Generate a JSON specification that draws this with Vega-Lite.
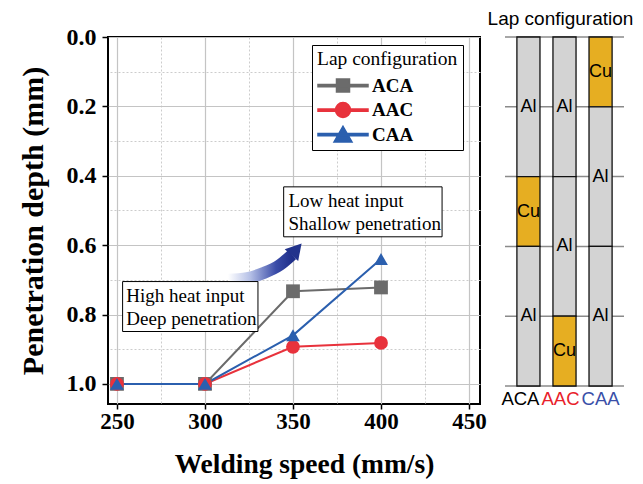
{
  "$schema": "https://vega.github.io/schema/vega-lite/v6.json",
  "background": "white",
  "padding": {"left": 17, "top": 10, "right": 5, "bottom": 5},
  "config": {"font": "Liberation Serif", "view": {"stroke": null}},
  "datasets": {
    "series": [
      {"speed": 250, "depth": 1.0, "config": "ACA"},
      {"speed": 300, "depth": 1.0, "config": "ACA"},
      {"speed": 350, "depth": 0.733, "config": "ACA"},
      {"speed": 400, "depth": 0.722, "config": "ACA"},
      {"speed": 250, "depth": 1.0, "config": "AAC"},
      {"speed": 300, "depth": 1.0, "config": "AAC"},
      {"speed": 350, "depth": 0.893, "config": "AAC"},
      {"speed": 400, "depth": 0.882, "config": "AAC"},
      {"speed": 250, "depth": 1.0, "config": "CAA"},
      {"speed": 300, "depth": 1.0, "config": "CAA"},
      {"speed": 350, "depth": 0.86, "config": "CAA"},
      {"speed": 400, "depth": 0.64, "config": "CAA"}
    ],
    "arrow": [
      {"ax": 313.1, "ay": 0.700},
      {"ax": 323.9, "ay": 0.695},
      {"ax": 333.5, "ay": 0.680},
      {"ax": 342.6, "ay": 0.657},
      {"ax": 349.4, "ay": 0.628}
    ],
    "arrowhead": [{"ax": 352.0, "ay": 0.612}],
    "boxes": [
      {"x1": 344.7, "x2": 434.7, "y1": 0.432, "y2": 0.576, "tx": 347.4, "ty": 0.4726, "label": "Low heat input\nShallow penetration"},
      {"x1": 253.2, "x2": 330.1, "y1": 0.705, "y2": 0.849, "tx": 255.3, "ty": 0.7455, "label": "High heat input\nDeep penetration"}
    ],
    "layers": [
      {"config": "ACA", "layer": 1, "material": "Al", "start": 0, "end": 2},
      {"config": "ACA", "layer": 2, "material": "Cu", "start": 2, "end": 3},
      {"config": "ACA", "layer": 3, "material": "Al", "start": 3, "end": 5},
      {"config": "AAC", "layer": 1, "material": "Al", "start": 0, "end": 2},
      {"config": "AAC", "layer": 2, "material": "Al", "start": 2, "end": 4},
      {"config": "AAC", "layer": 3, "material": "Cu", "start": 4, "end": 5},
      {"config": "CAA", "layer": 1, "material": "Cu", "start": 0, "end": 1},
      {"config": "CAA", "layer": 2, "material": "Al", "start": 1, "end": 3},
      {"config": "CAA", "layer": 3, "material": "Al", "start": 3, "end": 5}
    ],
    "lines": [{"v": 0}, {"v": 1}, {"v": 2}, {"v": 3}, {"v": 4}, {"v": 5}]
  },
  "bounds": "flush",
  "spacing": 25,
  "resolve": {"scale": {"x": "independent", "y": "independent", "color": "independent"}},
  "hconcat": [
    {
      "width": 372,
      "height": 367,
      "view": {"stroke": "black", "strokeWidth": 2},
      "layer": [
        {
          "data": {"name": "series"},
          "mark": {"type": "point", "opacity": 0},
          "encoding": {
            "x": {"field": "speed", "type": "quantitative",
              "scale": {"domain": [244.9, 456.25], "nice": false, "zero": false},
              "axis": {"orient": "top", "values": [275, 325, 375, 425], "labels": false, "domain": false, "ticks": false, "grid": true, "gridDash": [2, 2], "gridColor": "#cccccc", "gridWidth": 1, "title": null}},
            "y": {"field": "depth", "type": "quantitative",
              "scale": {"domain": [0, 1.058], "reverse": true, "nice": false, "zero": false},
              "axis": {"orient": "right", "values": [0.1, 0.3, 0.5, 0.7, 0.9], "labels": false, "domain": false, "ticks": false, "grid": true, "gridDash": [2, 2], "gridColor": "#cccccc", "gridWidth": 1, "title": null}}
          }
        },
        {
          "data": {"name": "series"},
          "mark": {"type": "line", "strokeWidth": 2},
          "encoding": {
            "x": {"field": "speed", "type": "quantitative",
              "axis": {"orient": "bottom", "values": [250, 300, 350, 400, 450], "domain": false, "grid": true, "gridColor": "#c4c4c4", "gridWidth": 1.2, "ticks": true, "tickSize": 5, "tickColor": "black", "tickWidth": 1.5, "labelFontSize": 23, "labelFontWeight": "bold", "labelColor": "black", "labelPadding": 1, "title": "Welding speed (mm/s)", "titleFontSize": 27.5, "titleFontWeight": "bold", "titleColor": "black", "titlePadding": 17, "titleX": 196}},
            "y": {"field": "depth", "type": "quantitative",
              "axis": {"orient": "left", "values": [0, 0.2, 0.4, 0.6, 0.8, 1.0], "format": ".1f", "domain": false, "grid": true, "gridColor": "#c4c4c4", "gridWidth": 1.2, "ticks": true, "tickSize": 6, "tickColor": "black", "tickWidth": 1.5, "labelFontSize": 24, "labelFontWeight": "bold", "labelColor": "black", "labelPadding": 6, "title": "Penetration depth (mm)", "titleFontSize": 30, "titleFontWeight": "bold", "titleColor": "black", "titlePadding": 18}},
            "color": {"field": "config", "type": "nominal",
              "scale": {"domain": ["ACA", "AAC", "CAA"], "range": ["#6b6b6b", "#e8323c", "#2b5fae"]},
              "legend": {
                "orient": "none", "legendX": 204, "legendY": 8,
                "title": "Lap configuration", "titleFont": "Liberation Serif", "titleFontSize": 19.5, "titleFontWeight": "normal", "titleColor": "black", "titlePadding": 6,
                "labelFont": "Liberation Serif", "labelFontSize": 19, "labelFontWeight": "bold", "labelColor": "black", "labelOffset": 3,
                "symbolSize": 2500, "clipHeight": 20, "rowPadding": 4.5,
                "strokeColor": "black", "fillColor": "white", "padding": 5,
                "encode": {
                  "symbols": {
                    "update": {
                      "shape": {"signal": "datum.value === 'ACA' ? 'M-1,-0.045H1V0.045H-1Z M-0.26,-0.26H0.26V0.26H-0.26Z' : datum.value === 'AAC' ? 'M-1,-0.045H1V0.045H-1Z M0.3,0A0.3,0.3 0 1,1 -0.3,0A0.3,0.3 0 1,1 0.3,0Z' : 'M-1,-0.045H1V0.045H-1Z M0,-0.33L0.36,0.3L-0.36,0.3Z'"},
                      "fill": {"signal": "datum.value === 'ACA' ? '#6b6b6b' : datum.value === 'AAC' ? '#e8323c' : '#2b5fae'"},
                      "stroke": {"value": "transparent"},
                      "opacity": {"value": 1}
                    }
                  }
                }
              }}
          }
        },
        {
          "data": {"name": "series"},
          "mark": {"type": "point", "filled": true, "opacity": 1, "size": 190},
          "encoding": {
            "x": {"field": "speed", "type": "quantitative", "axis": null},
            "y": {"field": "depth", "type": "quantitative", "axis": null},
            "color": {"field": "config", "type": "nominal"},
            "shape": {"field": "config", "type": "nominal", "scale": {"domain": ["ACA", "AAC", "CAA"], "range": ["square", "circle", "triangle-up"]}, "legend": null}
          }
        },
        {
          "data": {"name": "arrow"},
          "mark": {"type": "line", "interpolate": "monotone", "strokeWidth": 12, "strokeCap": "butt",
            "stroke": {"gradient": "linear", "x1": 0, "y1": 0, "x2": 1, "y2": 0,
              "stops": [{"offset": 0, "color": "#ffffff"}, {"offset": 0.35, "color": "#b4bfe6"}, {"offset": 0.75, "color": "#3a4ca8"}, {"offset": 1, "color": "#1f2f8a"}]}},
          "encoding": {
            "x": {"field": "ax", "type": "quantitative", "axis": null},
            "y": {"field": "ay", "type": "quantitative", "axis": null}
          }
        },
        {
          "data": {"name": "arrowhead"},
          "mark": {"type": "point", "shape": "triangle-up", "filled": true, "color": "#22338c", "opacity": 1, "size": 320, "angle": 41},
          "encoding": {
            "x": {"field": "ax", "type": "quantitative", "axis": null},
            "y": {"field": "ay", "type": "quantitative", "axis": null}
          }
        },
        {
          "data": {"name": "boxes"},
          "mark": {"type": "rect", "fill": "white", "stroke": "black", "strokeWidth": 1},
          "encoding": {
            "x": {"field": "x1", "type": "quantitative", "axis": null},
            "x2": {"field": "x2"},
            "y": {"field": "y1", "type": "quantitative", "axis": null},
            "y2": {"field": "y2"}
          }
        },
        {
          "data": {"name": "boxes"},
          "mark": {"type": "text", "align": "left", "baseline": "middle", "lineBreak": "\n", "lineHeight": 23, "fontSize": 19, "font": "Liberation Serif", "color": "black"},
          "encoding": {
            "x": {"field": "tx", "type": "quantitative", "axis": null},
            "y": {"field": "ty", "type": "quantitative", "axis": null},
            "text": {"field": "label"}
          }
        }
      ],
      "resolve": {"axis": {"x": "independent", "y": "independent"}}
    },
    {
      "width": 119,
      "height": 349,
      "view": {"stroke": null},
      "title": {"text": "Lap configuration", "font": "Liberation Sans", "fontSize": 19, "fontWeight": "normal", "color": "black", "offset": 7, "anchor": "middle", "dx": -4},
      "layer": [
        {
          "data": {"name": "lines"},
          "mark": {"type": "rule", "color": "#8a8a8a", "strokeWidth": 1.5},
          "encoding": {
            "y": {"field": "v", "type": "quantitative", "scale": {"domain": [0, 5], "reverse": true, "nice": false, "zero": false}, "axis": null}
          }
        },
        {
          "data": {"name": "layers"},
          "mark": {"type": "bar", "stroke": "#111111", "strokeWidth": 1.3},
          "encoding": {
            "x": {"field": "config", "type": "nominal",
              "scale": {"type": "band", "domain": ["ACA", "AAC", "CAA"], "paddingInner": 0.36, "paddingOuter": 0.33},
              "axis": {"title": null, "domain": false, "ticks": false, "labelAngle": 0, "labelFont": "Liberation Sans", "labelFontSize": 18.5, "labelPadding": 3,
                "labelOffset": {"condition": [{"test": "datum.value === 'ACA'", "value": -8}, {"test": "datum.value === 'AAC'", "value": -4}], "value": 0},
                "labelColor": {"condition": [{"test": "datum.value === 'AAC'", "value": "#e8202a"}, {"test": "datum.value === 'CAA'", "value": "#3a4fa8"}], "value": "black"}}},
            "y": {"field": "start", "type": "quantitative", "axis": null},
            "y2": {"field": "end"},
            "fill": {"field": "material", "type": "nominal", "scale": {"domain": ["Al", "Cu"], "range": ["#d3d3d3", "#e6ae22"]}, "legend": null}
          }
        },
        {
          "data": {"name": "layers"},
          "transform": [{"fold": ["start", "end"], "as": ["edge", "depth"]}],
          "mark": {"type": "text", "font": "Liberation Sans", "fontSize": 18, "color": "black"},
          "encoding": {
            "x": {"field": "config", "type": "nominal"},
            "y": {"aggregate": "mean", "field": "depth", "type": "quantitative"},
            "text": {"field": "material"},
            "detail": {"field": "layer"}
          }
        }
      ]
    }
  ]
}
